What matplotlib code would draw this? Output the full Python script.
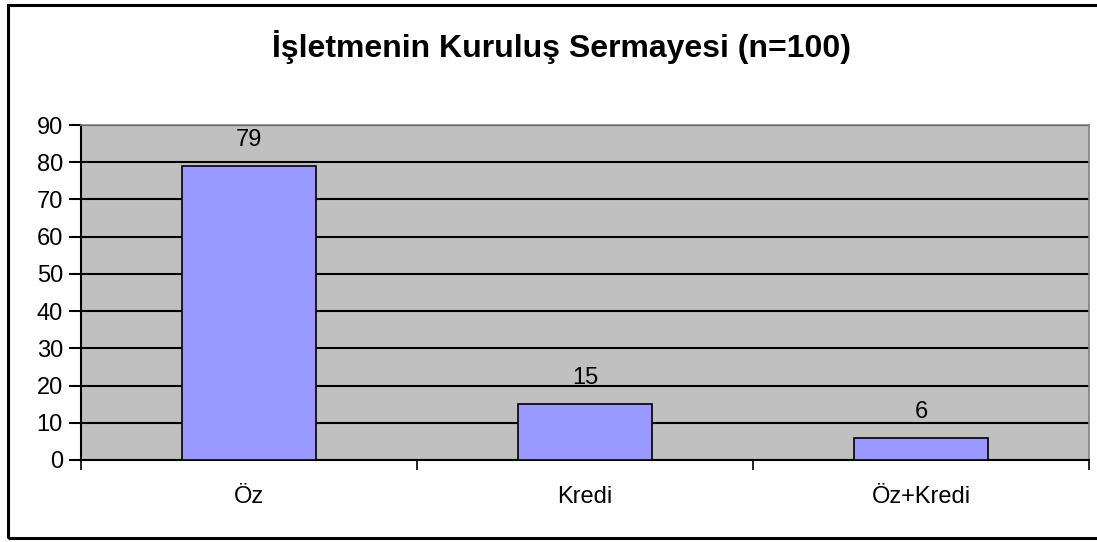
import matplotlib
matplotlib.use("Agg")
import matplotlib.pyplot as plt
from matplotlib.patches import Rectangle

categories = ["Öz", "Kredi", "Öz+Kredi"]
values = [79, 15, 6]
yticks = [0, 10, 20, 30, 40, 50, 60, 70, 80, 90]
title = "İşletmenin Kuruluş Sermayesi (n=100)"

plt.rcParams['font.family'] = ['Liberation Sans', 'DejaVu Sans']

W, H = 1097, 542
fig = plt.figure(figsize=(W/100, H/100), dpi=100)
fig.patches.append(Rectangle((8/W, 4/H), (1110-8)/W, (537-4)/H, transform=fig.transFigure,
                             fill=False, edgecolor='black', linewidth=2.2))

ax = fig.add_axes([81/W, (H-460)/H, (1089-81)/W, (460-125)/H])
ax.set_facecolor('#C0C0C0')
x = list(range(len(categories)))
ax.set_axisbelow(True)
ax.yaxis.grid(True, color='black', linewidth=1.5)
ax.bar(x, values, width=0.4, color='#9999FF', edgecolor='black', linewidth=1.2, zorder=3)
for xi, v in zip(x, values):
    ax.text(xi, v + 5.3, str(v), ha='center', va='baseline', fontsize=17)

ax.set_xlim(-0.5, 2.5)
ax.set_ylim(0, 90)
ax.set_yticks(yticks)
ax.set_yticklabels([str(t) for t in yticks], fontsize=17)
ax.set_xticks([-0.5, 0.5, 1.5, 2.5])
ax.set_xticklabels([])
ax.set_xticks(x, minor=True)
ax.set_xticklabels(categories, minor=True, fontsize=17)
ax.tick_params(axis='x', which='minor', length=0, pad=19)
ax.tick_params(axis='x', which='major', length=7, width=1.2, direction='out')
ax.tick_params(axis='y', length=9, width=1.5, direction='out', pad=4)
for s in ['left', 'bottom']:
    ax.spines[s].set_color('black')
    ax.spines[s].set_linewidth(1.5)
for s in ['top', 'right']:
    ax.spines[s].set_color('#808080')
    ax.spines[s].set_linewidth(1.2)

fig.text(561/W, 1 - 47/H, title, ha='center', va='center', fontsize=23, fontweight='bold')

fig.savefig('out.png', dpi=100)
